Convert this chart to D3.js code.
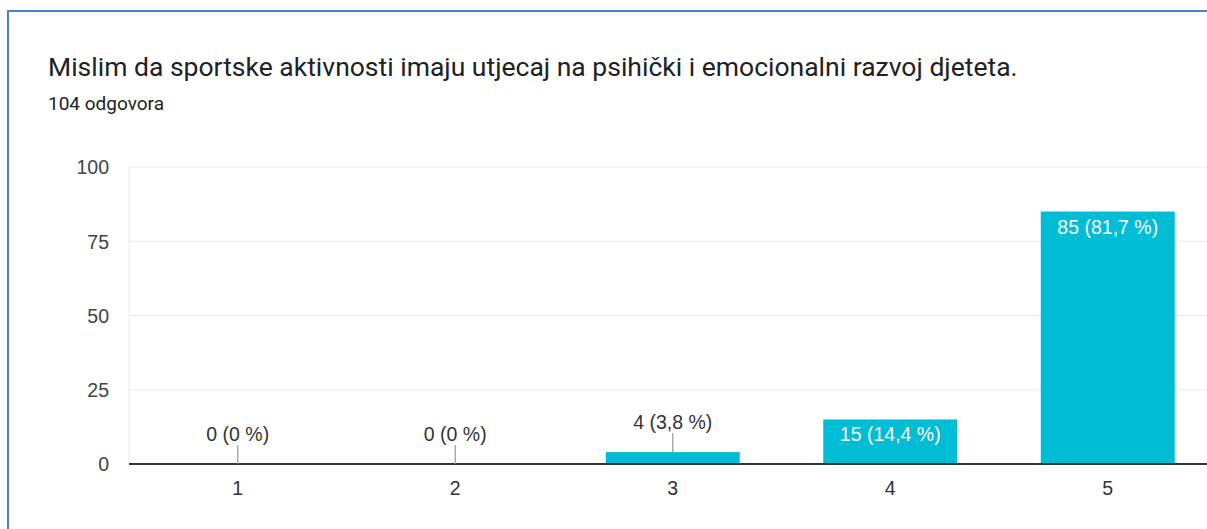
<!DOCTYPE html>
<html><head><meta charset="utf-8">
<script src="https://cdn.jsdelivr.net/npm/d3@7"></script>
<style>
html,body{margin:0;padding:0;background:#fff;overflow:hidden}
svg{display:block}
</style></head><body>
<svg id="chart" width="1207" height="529"></svg>
<script>
const categories = ["1","2","3","4","5"];
const counts = [0, 0, 4, 15, 85];
const percentLabels = ["0 %","0 %","3,8 %","14,4 %","81,7 %"];
const yTicks = [0, 25, 50, 75, 100];
const title = "Mislim da sportske aktivnosti imaju utjecaj na psihički i emocionalni razvoj djeteta.";
const subtitle = "104 odgovora";

(function () {
const svg = d3.select("#chart");
const W = 1207, H = 529;
svg.append("rect").attr("width", W).attr("height", H).attr("fill", "#fff");
// frame
svg.append("rect").attr("x", 8).attr("y", 11).attr("width", W + 20).attr("height", H + 20)
  .attr("fill", "none").attr("stroke", "#4a80c8").attr("stroke-width", 2);

svg.append("text").attr("x", 48).attr("y", 76).text(title)
  .attr("font-family", "Roboto, sans-serif").attr("font-size", 26.5).attr("fill", "#202124");
svg.append("text").attr("x", 48).attr("y", 110).text(subtitle)
  .attr("font-family", "Roboto, sans-serif").attr("font-size", 19).attr("fill", "#202124");

const pLeft = 129, pTop = 167, pBottom = 464;
const step = 217.5;
const x = d3.scaleBand().domain(categories).range([pLeft, pLeft + step * categories.length]).paddingInner(0.384).paddingOuter(0.192);
const y = d3.scaleLinear().domain([0, 100]).range([pBottom, pTop]);

const font = "'Liberation Sans', Arial, sans-serif";
const fs = 19.5;

// gridlines
const grid = svg.append("g");
grid.selectAll("line").data(yTicks.filter(d => d > 0)).join("line")
  .attr("x1", pLeft).attr("x2", W).attr("y1", d => y(d)).attr("y2", d => y(d))
  .attr("stroke", "#ebebeb").attr("stroke-width", 1);
grid.append("line").attr("x1", pLeft).attr("x2", pLeft).attr("y1", pTop).attr("y2", pBottom)
  .attr("stroke", "#ebebeb");

// y axis labels
const yAxis = svg.append("g").attr("transform", `translate(${pLeft - 20},0)`)
  .call(d3.axisLeft(y).tickValues(yTicks).tickSize(0).tickPadding(0));
yAxis.select(".domain").remove();
yAxis.selectAll("text").attr("font-family", font).attr("font-size", fs).attr("fill", "#444").attr("dy", "0.35em");

// bars
svg.append("g").selectAll("rect").data(counts).join("rect")
  .attr("x", (d, i) => x(categories[i])).attr("width", x.bandwidth())
  .attr("y", d => y(d)).attr("height", d => pBottom - y(d))
  .attr("fill", "#00bcd4");

// baseline
svg.append("line").attr("x1", pLeft).attr("x2", W).attr("y1", pBottom).attr("y2", pBottom)
  .attr("stroke", "#333").attr("stroke-width", 2);

// x axis labels
const xAxis = svg.append("g").attr("transform", `translate(0,${pBottom})`)
  .call(d3.axisBottom(x).tickSize(0).tickPadding(17));
xAxis.select(".domain").remove();
xAxis.selectAll("text").attr("font-family", font).attr("font-size", fs).attr("fill", "#333");

// data labels
const labels = svg.append("g");
counts.forEach((d, i) => {
  const cx = x(categories[i]) + x.bandwidth() / 2;
  const txt = `${d} (${percentLabels[i]})`;
  const inside = (pBottom - y(d)) > 30;
  if (inside) {
    labels.append("text").attr("x", cx).attr("y", y(d) + 22).attr("text-anchor", "middle")
      .attr("font-family", font).attr("font-size", fs).attr("fill", "#fff").text(txt);
  } else {
    labels.append("line").attr("x1", cx).attr("x2", cx).attr("y1", y(d)).attr("y2", y(d) - 19)
      .attr("stroke", "#999").attr("stroke-width", 1.2);
    labels.append("text").attr("x", cx).attr("y", y(d) - 23).attr("text-anchor", "middle")
      .attr("font-family", font).attr("font-size", fs).attr("fill", "#333").text(txt);
  }
});
})();
</script>
</body></html>
